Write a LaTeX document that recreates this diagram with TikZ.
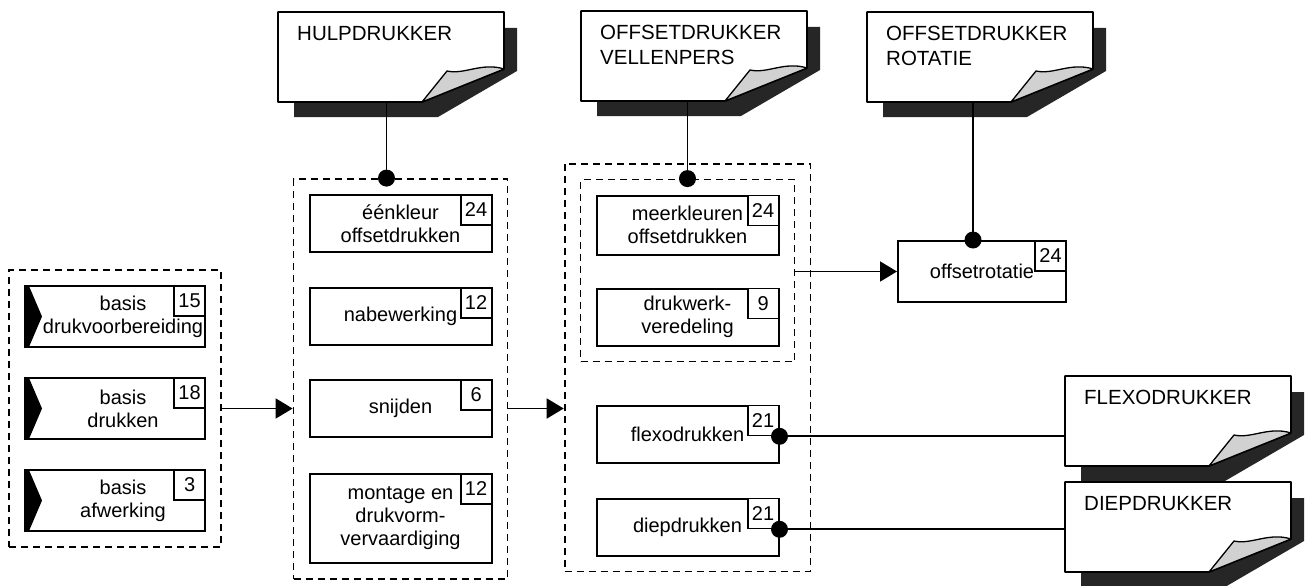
\documentclass[tikz,border=0pt]{standalone}
\usepackage{fontspec}
\setmainfont{Liberation Sans}
\usetikzlibrary{positioning,fit,arrows.meta}

\newcommand{\unitfont}{\fontsize{20}{23}\selectfont}
\newcommand{\docfont}{\fontsize{20.5}{25}\selectfont}

\tikzset{
  unit/.style={draw, line width=2pt, fill=white, minimum width=182pt,
    minimum height=57pt, inner sep=0pt, align=center, font=\unitfont},
  basisunit/.style={unit, minimum width=180pt, minimum height=61pt,
    path picture={\fill[black] ([xshift=-1pt]path picture bounding box.north west)
      -- ([xshift=4pt]path picture bounding box.north west)
      -- ([xshift=17pt]path picture bounding box.west)
      -- ([xshift=4pt]path picture bounding box.south west)
      -- ([xshift=-1pt]path picture bounding box.south west) -- cycle;}},
  unittext/.style={inner sep=0pt, align=center, font=\unitfont},
  numbox/.style={draw, line width=1.8pt, fill=white, anchor=north east,
    minimum width=31pt, minimum height=30pt, inner sep=0pt, font=\unitfont},
  group/.style={draw, line width=1.8pt, dash pattern=on 7pt off 5pt, inner sep=15pt},
  link/.style={line width=1.8pt},
  flow/.style={line width=1.8pt, -{Triangle[length=17pt,width=20pt]}},
  docnode/.style={minimum width=226pt, minimum height=90pt, inner sep=0pt},
  doctext/.style={anchor=north west, inner sep=0pt, align=left, font=\docfont},
  docsheet/.style={fill=white, draw, line width=1.8pt, line join=round},
  docshadow/.style={fill=black!85},
  docflap/.style={fill=black!18, draw, line width=1.3pt, line join=round},
}

% sheet with curled corner: name, x, y (top left), text
\newcommand{\docpage}[4]{%
  \begin{scope}[shift={(#2,#3)}]
    \fill[docshadow] (226,16) -- (239,16) -- (239,59) -- (160,105) -- (16,105)
      -- (16,90) -- (144,90) -- (226,57) -- cycle;
    \filldraw[docsheet] (0,0) -- (226,0) -- (226,57) -- (144,90) -- (0,90) -- cycle;
    \filldraw[docflap] (144,90) -- (169,59) .. controls (186,63) and (204,50) .. (226,57) -- cycle;
    \node[docnode] (#1) at (113,45) {};
    \node[doctext] (#1-t) at (19,14) {#4};
  \end{scope}}

\begin{document}
\begin{tikzpicture}[x=1pt, y=-1pt]
\useasboundingbox (0,0) rectangle (1307,586);

% basis
\node[basisunit] (b15) at (115,316.5) {};
\node[basisunit, below=29pt of b15] (b18) {};
\node[basisunit, below=29pt of b18] (b3) {};
\node[unittext, xshift=8pt] (b15t) at (b15) {basis\\drukvoorbereiding};
\node[unittext, xshift=8pt] (b18t) at (b18) {basis\\drukken};
\node[unittext, xshift=8pt] (b3t) at (b3) {basis\\afwerking};
\node[numbox] (b15n) at (b15.north east) {15};
\node[numbox] (b18n) at (b18.north east) {18};
\node[numbox] (b3n) at (b3.north east) {3};

% hulpdrukker
\node[unit] (e24) at (400.5,223.5) {éénkleur\\offsetdrukken};
\node[unit, below=34pt of e24] (n12) {nabewerking};
\node[unit, below=33pt of n12] (s6) {snijden};
\node[unit, minimum height=89pt, below=35pt of s6] (m12) {montage en\\drukvorm-\\vervaardiging};
\node[numbox] (e24n) at (e24.north east) {24};
\node[numbox] (n12n) at (n12.north east) {12};
\node[numbox] (s6n) at (s6.north east) {6};
\node[numbox] (m12n) at (m12.north east) {12};

% offset, flexo, diep
\node[unit, minimum height=59pt] (mk24) at (687.5,225) {meerkleuren\\offsetdrukken};
\node[unit, below=32pt of mk24] (dv9) {drukwerk-\\veredeling};
\node[unit] (fx21) at (687.5,434) {flexodrukken};
\node[unit, below=34pt of fx21] (dp21) {diepdrukken};
\node[numbox] (mk24n) at (mk24.north east) {24};
\node[numbox] (dv9n) at (dv9.north east) {9};
\node[numbox] (fx21n) at (fx21.north east) {21};
\node[numbox] (dp21n) at (dp21.north east) {21};

\node[unit, minimum width=168pt, minimum height=61pt] (rot) at (982,271.5) {offsetrotatie};
\node[numbox] (rotn) at (rot.north east) {24};

% groups
\node[group, fit=(b15)(b3)] (gL) {};
\node[group, fit=(e24)(m12)] (gM) {};
\node[group, fit=(mk24)(dv9)] (gI) {};
\node[group, fit=(gI)(dp21)] (gR) {};

% functions
\docpage{hulp}{278}{12}{HULPDRUKKER}
\docpage{vell}{581}{11}{OFFSETDRUKKER\\VELLENPERS}
\docpage{rota}{867}{12}{OFFSETDRUKKER\\ROTATIE}
\docpage{flexo}{1065}{376}{FLEXODRUKKER}
\docpage{diep}{1065}{482}{DIEPDRUKKER}

\coordinate (dH) at ([xshift=-14pt]gM.north);
\coordinate (dV) at (gI.north);
\coordinate (dR) at ([xshift=-9pt]rot.north);

\draw[link] (dH) -- (dH |- hulp.south);
\draw[link] (dV) -- (dV |- vell.south);
\draw[link] (dR) -- (dR |- rota.south);
\draw[link] (fx21n.south east) -- (fx21n.south east -| flexo.west);
\draw[link] (dp21n.south east) -- (dp21n.south east -| diep.west);

\draw[flow] (gL.east) -- (gL.east -| gM.west);
\draw[flow] (gM.east |- gL.east) -- (gR.west |- gL.east);
\draw[flow] (gI.east |- rot.west) -- (rot.west);

\fill (dH) circle (8.5pt);
\fill (dV) circle (8.5pt);
\fill (dR) circle (8.5pt);
\fill (fx21n.south east) circle (8.5pt);
\fill (dp21n.south east) circle (8.5pt);
\end{tikzpicture}
\end{document}
